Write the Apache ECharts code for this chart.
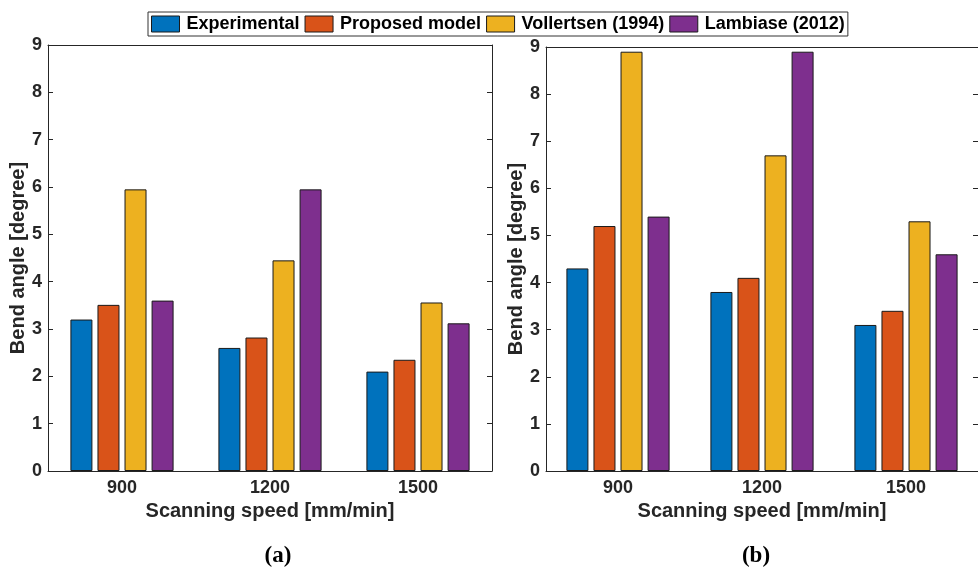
<!DOCTYPE html>
<html>
<head>
<meta charset="utf-8">
<script src="https://cdn.jsdelivr.net/npm/echarts@6/dist/echarts.min.js"></script>
<style>
  html, body { margin: 0; padding: 0; background: #fff; }
  #chart { width: 978px; height: 568px; }
</style>
</head>
<body>
<div id="chart"></div>
<script>
var speeds = ["900", "1200", "1500"];
var seriesNames = ["Experimental", "Proposed model", "Vollertsen (1994)", "Lambiase (2012)"];
var yTicks = [0, 1, 2, 3, 4, 5, 6, 7, 8, 9];

// panel (a)
var experimentalA = [3.2, 2.6, 2.1];
var proposedA = [3.51, 2.82, 2.35];
var vollertsenA = [5.95, 4.45, 3.56];
var lambiaseA = [3.6, 5.95, 3.12];

// panel (b)
var experimentalB = [4.3, 3.8, 3.1];
var proposedB = [5.2, 4.1, 3.4];
var vollertsenB = [8.9, 6.7, 5.3];
var lambiaseB = [5.4, 8.9, 4.6];

var colors = ["#0072BD", "#D95319", "#EDB120", "#7E2F8E"]; // matlab default
var font = "'Liberation Sans', Arial, Helvetica, sans-serif";
var axisColor = "#262626";

var chart = echarts.init(document.getElementById("chart"));

function xAxes(gridIndex) {
  return [
    {
      type: "category",
      gridIndex: gridIndex,
      data: speeds,
      position: "bottom",
      axisLine: { onZero: false, lineStyle: { color: axisColor, width: 1 } },
      axisTick: { inside: true, alignWithLabel: true, length: 5, lineStyle: { color: axisColor } },
      axisLabel: { color: axisColor, fontFamily: font, fontWeight: "bold", fontSize: 18, margin: 8 },
      name: "Scanning speed [mm/min]",
      nameLocation: "middle",
      nameGap: 27,
      nameTextStyle: { color: axisColor, fontFamily: font, fontWeight: "bold", fontSize: 20 },
    },
    {
      type: "category",
      gridIndex: gridIndex,
      data: speeds,
      position: "top",
      axisLine: { onZero: false, lineStyle: { color: axisColor, width: 1 } },
      axisTick: { inside: true, alignWithLabel: true, length: 5, lineStyle: { color: axisColor } },
      axisLabel: { show: false },
    },
  ];
}

function yAxes(gridIndex) {
  return [
    {
      type: "value",
      gridIndex: gridIndex,
      min: yTicks[0],
      max: yTicks[yTicks.length - 1],
      interval: 1,
      position: "left",
      splitLine: { show: false },
      axisLine: { show: true, lineStyle: { color: axisColor, width: 1 } },
      axisTick: { show: true, inside: true, length: 5, lineStyle: { color: axisColor } },
      axisLabel: { color: axisColor, fontFamily: font, fontWeight: "bold", fontSize: 18, margin: 6 },
      name: "Bend angle [degree]",
      nameLocation: "middle",
      nameGap: 19,
      nameTextStyle: { color: axisColor, fontFamily: font, fontWeight: "bold", fontSize: 20, verticalAlign: "bottom" },
    },
    {
      type: "value",
      gridIndex: gridIndex,
      min: yTicks[0],
      max: yTicks[yTicks.length - 1],
      interval: 1,
      position: "right",
      splitLine: { show: false },
      axisLine: { show: true, lineStyle: { color: axisColor, width: 1 } },
      axisTick: { show: true, inside: true, length: 5, lineStyle: { color: axisColor } },
      axisLabel: { show: false },
    },
  ];
}

function barSeries(name, data, idx, panel) {
  return {
    type: "bar",
    name: name,
    data: data,
    xAxisIndex: panel * 2,
    yAxisIndex: panel * 2,
    barWidth: 22,
    barGap: "23%",
    itemStyle: { color: colors[idx], borderColor: "#1a1a1a", borderWidth: 1 },
    emphasis: { disabled: true },
  };
}

var dataA = [experimentalA, proposedA, vollertsenA, lambiaseA];
var dataB = [experimentalB, proposedB, vollertsenB, lambiaseB];
var series = [];
seriesNames.forEach(function (n, i) { series.push(barSeries(n, dataA[i], i, 0)); });
seriesNames.forEach(function (n, i) { series.push(barSeries(n, dataB[i], i, 1)); });

var option = {
  animation: false,
  backgroundColor: "#fff",
  legend: {
    data: seriesNames,
    left: 148,
    top: 12,
    itemWidth: 28,
    itemHeight: 16,
    itemGap: 5,
    padding: [3, 3, 3, 3],
    borderColor: "#333",
    borderWidth: 1,
    icon: "rect",
    itemStyle: { borderColor: "#1a1a1a", borderWidth: 1 },
    textStyle: { color: "#000", fontFamily: font, fontWeight: "bold", fontSize: 18, padding: [0, 0, 0, 2] },
  },
  grid: [
    { left: 48, top: 45, width: 444, height: 426 },
    { left: 546, top: 47, width: 441, height: 424 },
  ],
  xAxis: xAxes(0).concat(xAxes(1)),
  yAxis: yAxes(0).concat(yAxes(1)),
  series: series,
  graphic: [
    { type: "text", x: 278, y: 545, style: { text: "(a)", textAlign: "center", font: "bold 23px 'Liberation Serif', 'Times New Roman', serif", fill: "#000" } },
    { type: "text", x: 756, y: 545, style: { text: "(b)", textAlign: "center", font: "bold 23px 'Liberation Serif', 'Times New Roman', serif", fill: "#000" } },
  ],
};

chart.setOption(option);
</script>
</body>
</html>
